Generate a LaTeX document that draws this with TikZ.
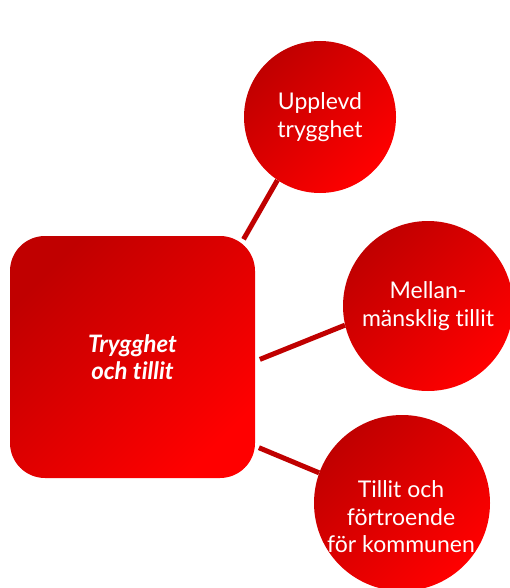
\documentclass[tikz,border=0pt]{standalone}
\usepackage{fontspec}
\setmainfont{Lato}[Ligatures=NoCommon]
\definecolor{darkred}{RGB}{192,0,0}
\definecolor{brightred}{RGB}{255,0,0}
\tikzset{
    redfill/.style={top color=darkred,bottom color=brightred,shading angle=45},
    hub/.style={redfill,rectangle,rounded corners=35pt,inner sep=0pt,
        minimum width=245pt,minimum height=242pt,text=white,align=center,
        font=\fontsize{24}{27.5}\selectfont\bfseries\itshape},
    topic/.style={redfill,circle,inner sep=0pt,text=white,align=center,
        font=\fontsize{23}{28}\selectfont},
    link/.style={draw=darkred,line width=5pt}
}
\begin{document}
\begin{tikzpicture}[x=1pt,y=-1pt]
        \useasboundingbox (0,0) rectangle (510,588);
        %% Centre block
        \node[hub] (sq) at (132.5,357) {Trygghet\\och tillit};
        %% Three topics
        \node[topic,minimum size=152pt] (top) at (320,117) {Upplevd\\trygghet};
        \node[topic,minimum size=170pt] (mid) at (428,306) {Mellan-\\mänsklig tillit};
        \node[topic,minimum size=176pt] (bot) at (402,503) {};
        \node[text=white,align=center,font=\fontsize{23}{27.5}\selectfont]
            (botlabel) at (401,517) {Tillit och\\förtroende\\för kommunen};
        %% Links
        \draw[link,shorten >=-4pt] (top.236) -- (sq.47);
        \draw[link,shorten >=5pt] (mid.193) -- (sq.-2);
        \draw[link,shorten >=4pt] (bot.160) -- (sq.-36.6);
    \end{tikzpicture}
\end{document}
